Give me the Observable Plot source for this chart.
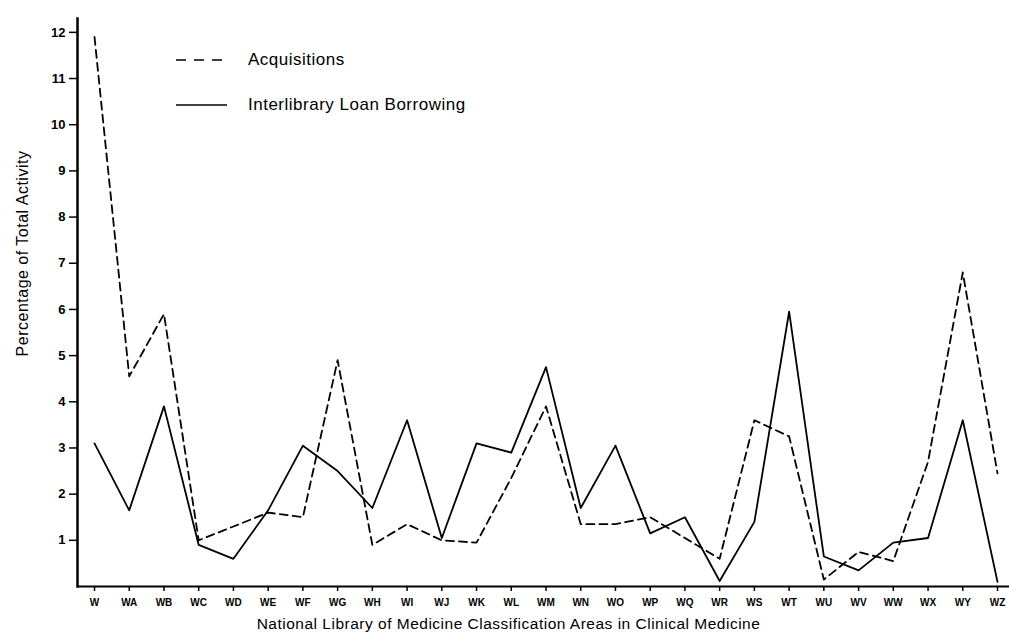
<!DOCTYPE html>
<html>
<head>
<meta charset="utf-8">
<script src="https://cdn.jsdelivr.net/npm/d3@7"></script>
<script src="https://cdn.jsdelivr.net/npm/@observablehq/plot@0.6"></script>
<style>
  html, body { margin: 0; padding: 0; background: #fff; }
  #wrap { position: relative; width: 1009px; height: 636px; font-family: 'Liberation Sans', Arial, sans-serif; }
  .leg { position: absolute; display: flex; align-items: center; color: #000; font-size: 17px; letter-spacing: 0.5px; }
  .leg svg { margin-right: 21px; }
</style>
</head>
<body>
<div id="wrap"></div>
<script>
const categories = ["W","WA","WB","WC","WD","WE","WF","WG","WH","WI","WJ","WK","WL","WM","WN","WO","WP","WQ","WR","WS","WT","WU","WV","WW","WX","WY","WZ"];
const acquisitions = [11.9,4.55,5.9,1.0,1.3,1.6,1.5,4.9,0.9,1.35,1.0,0.95,2.35,3.9,1.35,1.35,1.5,1.05,0.6,3.6,3.25,0.15,0.75,0.55,2.7,6.8,2.45];
const borrowing = [3.1,1.65,3.9,0.9,0.6,1.65,3.05,2.5,1.7,3.6,1.05,3.1,2.9,4.75,1.7,3.05,1.15,1.5,0.12,1.4,5.95,0.65,0.35,0.95,1.05,3.6,0.1];
const yTicks = [1,2,3,4,5,6,7,8,9,10,11,12];
const seriesNames = ["Acquisitions", "Interlibrary Loan Borrowing"];
const xTitle = "National Library of Medicine Classification Areas in Clinical Medicine";
const yTitle = "Percentage of Total Activity";

const rows = categories.map((c, i) => ({cat: c, acq: acquisitions[i], ill: borrowing[i]}));

const plot = Plot.plot({
  width: 1009,
  height: 636,
  marginLeft: 77,
  marginRight: 0,
  marginTop: 18,
  marginBottom: 50,
  style: {fontFamily: "'Liberation Sans', Arial, sans-serif", background: "#fff", color: "#000"},
  x: {type: "point", domain: categories, range: [94, 997], padding: 0, round: false},
  y: {domain: [0, 12.3]},
  marks: [
    Plot.axisX({tickSize: 5, tickPadding: 7, fontSize: 10, fontWeight: "bold", label: null, strokeWidth: 1.5}),
    Plot.axisY({ticks: yTicks, tickSize: 8, tickPadding: 4, fontSize: 13, fontWeight: "bold", label: null, strokeWidth: 1.5}),
    Plot.ruleY([0], {stroke: "#000", strokeWidth: 2}),
    Plot.frame({anchor: "left", stroke: "#000", strokeWidth: 2.5}),
    Plot.lineY(rows, {x: "cat", y: "acq", stroke: "#000", strokeWidth: 1.8, strokeDasharray: "8,5"}),
    Plot.lineY(rows, {x: "cat", y: "ill", stroke: "#000", strokeWidth: 1.8}),
    Plot.text([xTitle], {frameAnchor: "bottom", dy: 42, dx: -35, fontSize: 15.5, fill: "#000"}),
    Plot.text([yTitle], {frameAnchor: "left", textAnchor: "middle", rotate: -90, dx: -55, dy: -49, fontSize: 16, fill: "#000"})
  ]
});

const wrap = document.getElementById("wrap");
wrap.appendChild(plot);
d3.select(plot).selectAll("text").filter(function() { return this.textContent === xTitle || this.textContent === yTitle; })
  .style("letter-spacing", "0.5px");

function legendItem(label, dashed, top) {
  const d = document.createElement("div");
  d.className = "leg";
  d.style.left = "176px";
  d.style.top = (top - 10) + "px";
  d.style.height = "20px";
  d.innerHTML = `<svg width="51" height="6"><line x1="0" x2="51" y1="3" y2="3" stroke="#000" stroke-width="1.6" ${dashed ? 'stroke-dasharray="10,8"' : ''}/></svg><span>${label}</span>`;
  wrap.appendChild(d);
}
legendItem(seriesNames[0], true, 60);
legendItem(seriesNames[1], false, 105);
</script>
</body>
</html>
